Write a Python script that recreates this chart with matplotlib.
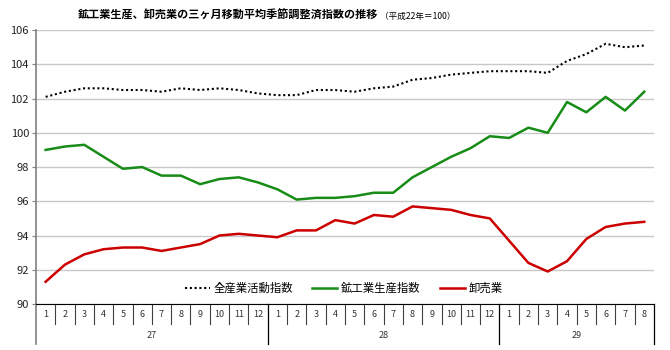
import numpy as np
import matplotlib
matplotlib.use("Agg")
from matplotlib import pyplot as plt
import matplotlib.transforms as mtransforms

plt.rcParams['font.family'] = ['Noto Sans CJK JP', 'DejaVu Sans']

# data
years = ["27", "28", "29"]
months = [str(m) for m in range(1, 13)] * 2 + [str(m) for m in range(1, 9)]
all_ind = [102.1, 102.4, 102.6, 102.6, 102.5, 102.5, 102.4, 102.6, 102.5, 102.6, 102.5, 102.3,
           102.2, 102.2, 102.5, 102.5, 102.4, 102.6, 102.7, 103.1, 103.2, 103.4, 103.5, 103.6,
           103.6, 103.6, 103.5, 104.2, 104.6, 105.2, 105.0, 105.1]
mining = [99.0, 99.2, 99.3, 98.6, 97.9, 98.0, 97.5, 97.5, 97.0, 97.3, 97.4, 97.1,
          96.7, 96.1, 96.2, 96.2, 96.3, 96.5, 96.5, 97.4, 98.0, 98.6, 99.1, 99.8,
          99.7, 100.3, 100.0, 101.8, 101.2, 102.1, 101.3, 102.4]
wholesale = [91.3, 92.3, 92.9, 93.2, 93.3, 93.3, 93.1, 93.3, 93.5, 94.0, 94.1, 94.0,
             93.9, 94.3, 94.3, 94.9, 94.7, 95.2, 95.1, 95.7, 95.6, 95.5, 95.2, 95.0,
             93.7, 92.4, 91.9, 92.5, 93.8, 94.5, 94.7, 94.8]
year_len = [12, 12, 8]

x = np.arange(len(months))

fig = plt.figure(figsize=(6.7, 3.5), dpi=100)
ax = fig.add_axes([0.0537, 0.1314, 0.9223, 0.7826])

ax.plot(x, all_ind, color="black", linestyle=(0, (1, 1.3)), linewidth=1.5, label="全産業活動指数")
ax.plot(x, mining, color="#178c17", linewidth=1.8, label="鉱工業生産指数")
ax.plot(x, wholesale, color="#cc0000", linewidth=1.8, label="卸売業")

ax.set_xlim(-0.5, len(months) - 0.5)
ax.set_ylim(90, 106)
ax.set_yticks(np.arange(90, 107, 2))
ax.tick_params(axis='y', labelsize=8, length=3, color="#808080", pad=2, labelcolor="#222222")
ax.yaxis.grid(True, color="#c8c8c8", linewidth=1)
ax.set_axisbelow(True)
ax.set_xticks([])
for s in ["top", "right"]:
    ax.spines[s].set_visible(False)
ax.spines["left"].set_color("#808080")
ax.spines["left"].set_linewidth(1.2)
ax.spines["bottom"].set_color("black")

# category axis
trans = mtransforms.blended_transform_factory(ax.transData, ax.transAxes)
m_low = -0.073
y_low = -0.146
for i, m in enumerate(months):
    ax.text(i, m_low / 2, m, transform=trans, ha="center", va="center", fontsize=6.5, color="#333333")
bounds = np.cumsum([0] + year_len)
for b in range(1, len(months)):
    if b in bounds:
        continue
    ax.plot([b - 0.5, b - 0.5], [0, m_low], transform=trans, color="#404040", linewidth=0.8, clip_on=False)
for b in bounds:
    col = "#808080" if b == 0 else "black"
    lw = 1.2 if b == 0 else 0.9
    ax.plot([b - 0.5, b - 0.5], [0, y_low], transform=trans, color=col, linewidth=lw, clip_on=False)
for k, yr in enumerate(years):
    c = (bounds[k] + bounds[k + 1]) / 2 - 0.5
    ax.text(c, (m_low + y_low) / 2 - 0.005, yr, transform=trans, ha="center", va="center",
            fontsize=6.5, color="#333333")

ax.legend(loc="center", bbox_to_anchor=(0.498, 0.058), ncol=3, frameon=False, fontsize=8.2,
          handlelength=2.2, columnspacing=1.7, handletextpad=0.3)

fig.text(0.116, 0.955, "鉱工業生産、卸売業の三ヶ月移動平均季節調整済指数の推移", fontsize=8.0,
         fontweight="bold", ha="left", va="center")
fig.text(0.567, 0.952, "（平成22年＝100）", fontsize=6.2, ha="left", va="center")

fig.savefig("out.png", dpi=100)
